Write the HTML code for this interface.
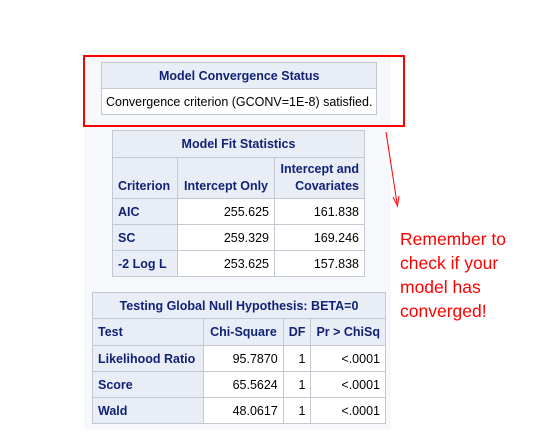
<!DOCTYPE html>
<html><head><meta charset="utf-8"><style>
body{margin:0;width:535px;height:443px;background:#fff;position:relative;overflow:hidden;font-family:"Liberation Sans",Arial,sans-serif;}
.panel{position:absolute;left:84px;top:50px;width:307px;height:379px;background:#f6f8fc;}
table{position:absolute;border-collapse:collapse;font-size:12.5px;}
td,th{border:1px solid #c3c8d1;padding:0 5px;white-space:nowrap;}
th{background:#e9eef6;color:#112277;font-weight:bold;}
td{background:#fff;color:#000;text-align:right;}
th.l{text-align:left;}
.red{position:absolute;left:83px;top:55px;width:318px;height:68px;border:2px solid #ff0000;}
.note{position:absolute;left:400px;top:227px;color:#ff0000;font-size:17.5px;line-height:24px;}
</style></head><body>
<div class="panel"></div>

<table style="left:101px;top:62px;width:276px;">
<tr style="height:26px"><th>Model Convergence Status</th></tr>
<tr style="height:26px"><td style="text-align:left;padding:0 4px">Convergence criterion (GCONV=1E-8) satisfied.</td></tr>
</table>
<div class="red"></div>

<table style="left:112px;top:130px;width:253px;">
<tr style="height:27px"><th colspan="3">Model Fit Statistics</th></tr>
<tr style="height:41px"><th class="l" style="width:54px;vertical-align:bottom;padding-bottom:5px">Criterion</th><th style="width:86px;vertical-align:bottom;padding-bottom:5px">Intercept Only</th><th style="text-align:right;line-height:17px;white-space:normal">Intercept and Covariates</th></tr>
<tr style="height:26px"><th class="l">AIC</th><td>255.625</td><td>161.838</td></tr>
<tr style="height:26px"><th class="l">SC</th><td>259.329</td><td>169.246</td></tr>
<tr style="height:26px"><th class="l">-2 Log L</th><td>253.625</td><td>157.838</td></tr>
</table>

<table style="left:92px;top:292px;width:294px;">
<tr style="height:26px"><th colspan="4">Testing Global Null Hypothesis: BETA=0</th></tr>
<tr style="height:27px"><th class="l" style="width:101px">Test</th><th style="width:69px">Chi-Square</th><th style="width:16px">DF</th><th>Pr &gt; ChiSq</th></tr>
<tr style="height:26px"><th class="l">Likelihood Ratio</th><td>95.7870</td><td>1</td><td>&lt;.0001</td></tr>
<tr style="height:26px"><th class="l">Score</th><td>65.5624</td><td>1</td><td>&lt;.0001</td></tr>
<tr style="height:26px"><th class="l">Wald</th><td>48.0617</td><td>1</td><td>&lt;.0001</td></tr>
</table>

<svg style="position:absolute;left:0;top:0" width="535" height="443">
<line x1="386" y1="132" x2="397" y2="203" stroke="#ff0000" stroke-width="1"/>
<path d="M393,197 L397.5,206 L399,196" fill="none" stroke="#ff0000" stroke-width="1"/>
</svg>
<div class="note">Remember to<br>check if your<br>model has<br>converged!</div>
</body></html>
